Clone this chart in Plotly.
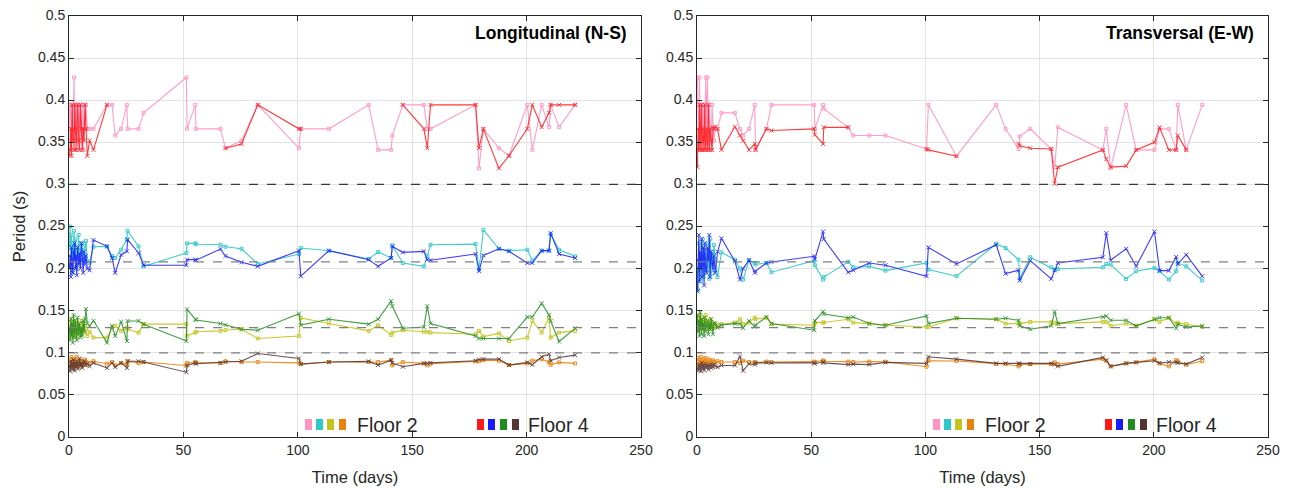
import plotly.graph_objects as go

# ---------------- data ----------------
days = [0.2, 0.5, 0.8, 1.1, 1.4, 1.7, 2.0, 2.2, 2.5, 2.8, 3.1, 3.4, 3.8, 4.2, 4.6, 5.0, 5.4, 5.8, 6.2, 6.6, 7.0, 7.4, 8.0, 9.0, 10.7,
        16.6, 18.8, 20.2, 22.8, 25.3, 25.6, 30.4, 32.6, 51.3, 51.6, 55.2, 55.5, 66.2, 68.4, 75.4, 82.5, 100.5, 101.3, 113.6,
        131.0, 135.1, 140.8, 141.3, 145.9, 155.1, 156.6, 158.0, 177.7, 179.2, 181.1, 187.9, 192.3, 200.3, 202.5, 206.6, 209.8,
        210.5, 214.2, 221.2]

N = None
# ---- Longitudinal (N-S) ----
long_f2_m1 = [0.3945, 0.352, 0.3945, 0.341, 0.3945, 0.366, 0.3945, 0.427, 0.366, 0.3945, 0.352, 0.3945, 0.341, 0.3945, 0.366, 0.3945, 0.352, 0.3945, 0.341, 0.3945, 0.366, 0.3945, 0.366, 0.366, 0.366,
              0.3945, 0.3945, 0.358, 0.366, 0.3945, 0.366, 0.366, 0.385, 0.427, 0.366, 0.3945, 0.366, 0.366, 0.343, 0.352, 0.3945, 0.343, 0.366, 0.366, 0.3945, 0.341, 0.341, 0.358, 0.3945, 0.3945, 0.366, 0.366, 0.3945, 0.319, 0.366, 0.343, 0.334, 0.3945, 0.341, 0.3945, 0.368, 0.3945, 0.368, 0.3945]
long_f4_m1 = [0.334, 0.341, 0.366, 0.334, 0.3945, 0.352, 0.366, 0.341, 0.3945, 0.352, 0.341, 0.366, 0.3945, 0.352, 0.341, 0.3945, 0.366, 0.341, 0.366, 0.352, 0.3945, 0.366, 0.334, 0.352, 0.341,
              0.3945, N, N, N, N, N, N, N, N, N, N, N, N, 0.343, 0.348, 0.3945, 0.366, 0.366, N, N, N, N, N, 0.3945, 0.366, 0.343, 0.3945, 0.3945, 0.343, 0.366, 0.319, 0.334, 0.366, 0.3945, 0.368, 0.385, 0.3945, 0.3945, 0.3945]
long_f2_m2 = [0.225, 0.25, 0.205, 0.24, 0.195, 0.23, 0.215, 0.245, 0.21, 0.235, 0.2, 0.225, 0.215, 0.24, 0.205, 0.22, 0.23, 0.21, 0.225, 0.215, 0.23, 0.233, 0.209, 0.207, 0.226,
              0.2264, 0.215, 0.2126, 0.2224, 0.235, 0.2449, 0.2264, 0.2027, 0.2185, 0.23, 0.23, 0.229, 0.2283, 0.226, 0.2236, 0.2055, 0.2173, 0.2244, 0.2213, 0.2114, 0.2197, 0.2126, 0.2276, 0.2067, 0.2027, 0.215, 0.2283, 0.2291, 0.1988, 0.246, 0.2236, 0.2213, 0.2224, 0.2094, 0.2213, 0.2213, 0.241, 0.2224, 0.2146]
long_f4_m2 = [0.2, 0.215, 0.19, 0.225, 0.205, 0.195, 0.22, 0.21, 0.23, 0.2, 0.215, 0.192, 0.225, 0.205, 0.218, 0.2, 0.23, 0.21, 0.195, 0.22, 0.205, 0.215, 0.2, 0.198, 0.234,
              0.2264, 0.2126, 0.1949, 0.2165, 0.2205, 0.2343, 0.2185, 0.204, 0.204, 0.2106, 0.2106, 0.21, 0.2232, 0.215, 0.2075, 0.2027, 0.2213, 0.191, 0.2213, 0.2106, 0.2027, 0.2126, 0.2264, 0.2193, 0.2205, 0.2106, 0.21, 0.2173, 0.1969, 0.2157, 0.2236, 0.2205, 0.2067, 0.2067, 0.2213, 0.2213, 0.2421, 0.2173, 0.2126]
long_f2_m3 = [0.125, 0.135, 0.118, 0.13, 0.14, 0.12, 0.128, 0.135, 0.122, 0.132, 0.138, 0.125, 0.12, 0.13, 0.135, 0.128, 0.122, 0.138, 0.13, 0.125, 0.132, 0.128, 0.12, 0.125, 0.118,
              0.118, 0.13, 0.132, 0.126, 0.13, 0.128, 0.124, 0.134, 0.134, 0.12, 0.124, 0.125, 0.126, 0.127, 0.128, 0.117, 0.12, 0.1413, 0.1347, 0.126, 0.1327, 0.1213, 0.124, 0.1268, 0.125, 0.125, 0.124, 0.122, 0.126, 0.1193, 0.123, 0.114, 0.118, 0.1378, 0.124, 0.142, 0.1181, 0.124, 0.126]
long_f4_m3 = [0.13, 0.115, 0.14, 0.12, 0.135, 0.112, 0.145, 0.125, 0.118, 0.138, 0.128, 0.115, 0.142, 0.122, 0.135, 0.118, 0.13, 0.12, 0.138, 0.125, 0.14, 0.152, 0.135, 0.132, 0.138,
              0.112, 0.132, 0.12, 0.137, 0.114, 0.1378, 0.1378, 0.134, 0.114, 0.1516, 0.1398, 0.139, 0.1347, 0.133, 0.128, 0.1268, 0.1465, 0.133, 0.1398, 0.134, 0.1398, 0.1614, 0.1555, 0.1291, 0.1307, 0.1555, 0.1347, 0.12, 0.117, 0.117, 0.117, 0.117, 0.1425, 0.1425, 0.1587, 0.145, 0.1378, 0.1134, 0.1291]
long_f2_m4 = [0.088, 0.092, 0.085, 0.095, 0.082, 0.09, 0.087, 0.093, 0.084, 0.091, 0.088, 0.095, 0.086, 0.09, 0.083, 0.092, 0.088, 0.085, 0.09, 0.087, 0.092, 0.089, 0.086, 0.088, 0.09,
              0.087, 0.089, 0.085, 0.088, 0.086, 0.09, 0.088, 0.089, 0.085, 0.088, 0.089, 0.088, 0.088, 0.09, 0.089, 0.089, 0.088, 0.0866, 0.089, 0.089, 0.089, 0.0913, 0.085, 0.089, 0.0874, 0.085, 0.087, 0.0898, 0.09, 0.0913, 0.0906, 0.0854, 0.0874, 0.0906, 0.0925, 0.089, 0.0858, 0.0886, 0.0874]
long_f4_m4 = [0.085, 0.078, 0.09, 0.082, 0.088, 0.08, 0.092, 0.084, 0.079, 0.087, 0.083, 0.09, 0.081, 0.086, 0.093, 0.084, 0.088, 0.082, 0.086, 0.09, 0.088, 0.085, 0.087, 0.084, 0.088,
              0.082, 0.088, 0.083, 0.088, 0.082, 0.09, 0.09, 0.089, 0.077, 0.085, 0.088, 0.087, 0.088, 0.089, 0.09, 0.0992, 0.0933, 0.0866, 0.089, 0.0898, 0.0854, 0.0913, 0.088, 0.0835, 0.0874, 0.0874, 0.088, 0.0906, 0.092, 0.0925, 0.0925, 0.0854, 0.0886, 0.0858, 0.0953, 0.0984, 0.0906, 0.0945, 0.0972]

# ---- Transversal (E-W) ----
trans_f2_m1 = [0.427, 0.3945, 0.341, 0.427, 0.366, 0.3945, 0.341, 0.366, 0.3945, 0.352, 0.3945, 0.341, 0.427, 0.366, 0.427, 0.341, 0.3945, 0.366, 0.341, 0.3945, 0.366, 0.352, 0.366, 0.366, 0.385,
               0.385, 0.366, 0.358, 0.366, 0.3945, 0.341, 0.366, 0.3945, 0.3945, 0.366, 0.3945, 0.39, 0.3677, 0.358, 0.358, 0.358, 0.342, 0.3945, 0.3335, 0.3945, 0.366, 0.342, 0.357, 0.366, 0.342, 0.3205, 0.3677, 0.341, 0.366, 0.319, 0.3945, 0.341, 0.341, 0.366, 0.366, 0.341, 0.3945, 0.341, 0.3945]
trans_f4_m1 = [0.3205, 0.366, 0.341, 0.3945, 0.341, 0.366, 0.3945, 0.341, 0.366, 0.352, 0.341, 0.3945, 0.341, 0.366, 0.341, 0.3945, 0.341, 0.366, 0.352, 0.341, 0.3677, 0.366, 0.3685, 0.366, 0.341,
               0.3685, 0.358, 0.352, 0.341, 0.348, 0.341, 0.366, 0.364, 0.366, 0.359, 0.348, 0.3677, 0.3677, N, N, N, 0.342, 0.341, 0.3335, N, N, 0.348, 0.346, 0.343, 0.342, 0.3008, 0.3205, 0.341, 0.33, 0.3205, 0.3217, 0.341, 0.35, 0.3677, 0.341, 0.341, 0.358, 0.341, N]
trans_f2_m2 = [0.2, 0.175, 0.23, 0.195, 0.215, 0.185, 0.225, 0.205, 0.235, 0.19, 0.21, 0.22, 0.195, 0.23, 0.2, 0.215, 0.188, 0.235, 0.205, 0.22, 0.195, 0.228, 0.21, 0.19, 0.2193,
               0.2106, 0.2, 0.187, 0.21, 0.2067, 0.205, 0.2067, 0.1957, 0.2094, 0.204, 0.187, 0.19, 0.208, 0.2016, 0.2027, 0.1976, 0.2067, 0.1988, 0.191, 0.2295, 0.2244, 0.2106, 0.1882, 0.2134, 0.2016, 0.1988, 0.1996, 0.2016, 0.2055, 0.2047, 0.1878, 0.1969, 0.2008, 0.1969, 0.187, 0.1969, 0.2067, 0.2027, 0.1858]
trans_f4_m2 = [0.173, 0.21, 0.24, 0.185, 0.22, 0.2, 0.235, 0.19, 0.215, 0.225, 0.18, 0.23, 0.2, 0.195, 0.225, 0.21, 0.24, 0.19, 0.22, 0.205, 0.2, 0.215, 0.195, 0.22, 0.236,
               0.2087, 0.187, 0.2, 0.21, 0.195, 0.197, 0.2067, 0.2079, 0.2146, 0.211, 0.244, 0.235, 0.1957, 0.198, 0.2067, 0.204, 0.191, 0.2252, 0.2055, 0.2283, 0.194, 0.198, 0.1858, 0.2094, 0.1878, 0.198, 0.2067, 0.2134, 0.2421, 0.21, 0.2236, 0.2027, 0.244, 0.1976, 0.1976, 0.2138, 0.2055, 0.2165, 0.191]
trans_f2_m3 = [0.135, 0.14, 0.128, 0.145, 0.132, 0.138, 0.13, 0.142, 0.135, 0.128, 0.14, 0.133, 0.145, 0.13, 0.138, 0.135, 0.128, 0.14, 0.132, 0.136, 0.13, 0.134, 0.13, 0.133, 0.134,
               0.1358, 0.1398, 0.134, 0.1358, 0.1417, 0.14, 0.1417, 0.134, 0.1327, 0.1358, 0.1358, 0.136, 0.1398, 0.1358, 0.1347, 0.1327, 0.1307, 0.1307, 0.141, 0.1398, 0.1347, 0.134, 0.1347, 0.1367, 0.1367, 0.135, 0.1347, 0.1367, 0.1367, 0.132, 0.1347, 0.132, 0.1398, 0.1367, 0.1417, 0.1347, 0.1358, 0.134, 0.1307]
trans_f4_m3 = [0.145, 0.125, 0.138, 0.12, 0.148, 0.13, 0.122, 0.14, 0.128, 0.135, 0.12, 0.142, 0.125, 0.132, 0.138, 0.122, 0.135, 0.128, 0.14, 0.13, 0.122, 0.135, 0.135, 0.13, 0.133,
               0.1347, 0.1347, 0.1295, 0.1378, 0.131, 0.133, 0.1425, 0.1347, 0.1268, 0.138, 0.149, 0.146, 0.1417, 0.1425, 0.1347, 0.1327, 0.1437, 0.1347, 0.141, 0.1398, 0.141, 0.1386, 0.132, 0.128, 0.132, 0.149, 0.1347, 0.1425, 0.1437, 0.1386, 0.1386, 0.132, 0.1398, 0.1417, 0.1417, 0.1291, 0.134, 0.1307, 0.132]
trans_f2_m4 = [0.09, 0.094, 0.086, 0.092, 0.088, 0.095, 0.087, 0.091, 0.089, 0.093, 0.086, 0.09, 0.094, 0.088, 0.091, 0.087, 0.092, 0.089, 0.09, 0.088, 0.091, 0.089, 0.088, 0.09, 0.089,
               0.089, 0.088, 0.0906, 0.089, 0.089, 0.088, 0.0895, 0.089, 0.0895, 0.089, 0.091, 0.09, 0.0895, 0.089, 0.0895, 0.0894, 0.0835, 0.0906, 0.0902, 0.0866, 0.0866, 0.0839, 0.086, 0.0866, 0.0866, 0.0886, 0.0866, 0.0925, 0.0906, 0.0839, 0.0874, 0.0886, 0.0925, 0.0874, 0.0839, 0.0913, 0.09, 0.0858, 0.0902]
trans_f4_m4 = [0.082, 0.079, 0.086, 0.08, 0.084, 0.078, 0.083, 0.088, 0.081, 0.085, 0.079, 0.083, 0.087, 0.082, 0.085, 0.08, 0.084, 0.086, 0.082, 0.085, 0.083, 0.086, 0.084, 0.083, 0.085,
               0.085, 0.0957, 0.0787, 0.087, 0.086, 0.088, 0.0885, 0.088, 0.088, 0.087, 0.089, 0.088, 0.086, 0.0865, 0.086, 0.0886, 0.0874, 0.0953, 0.0925, 0.0874, 0.0874, 0.0874, 0.087, 0.0866, 0.0874, 0.086, 0.0839, 0.0945, 0.091, 0.0839, 0.0874, 0.0886, 0.0906, 0.0878, 0.089, 0.0886, 0.088, 0.0866, 0.0945]

reference_periods = [0.3, 0.208, 0.13, 0.1]
panel_titles = ["Longitudinal (N-S)", "Transversal (E-W)"]
legend_labels = ["Floor 2", "Floor 4"]
x_ticks = [0, 50, 100, 150, 200, 250]
y_ticks = [0, 0.05, 0.1, 0.15, 0.2, 0.25, 0.3, 0.35, 0.4, 0.45, 0.5]

# ---------------- styles ----------------
floor2_colors = ["#ff94c2", "#2ec8c8", "#c4c41c", "#e8820c"]
floor4_colors = ["#ff1a1a", "#1a1aff", "#1f8c1f", "#553333"]
FONT = "Liberation Sans, Arial, sans-serif"
PAGE_OFF = 8                      # default body margin of the html page
TOP_PX, BOT_PX = 16, 437          # page pixel extents of the plot areas (vertical)
panel_px = [(69, 641), (697, 1268)]   # page pixel extents of the two plot areas (horizontal)
W, H = 1291 - PAGE_OFF, 491 - PAGE_OFF
ML, MT = 69 - PAGE_OFF, TOP_PX - PAGE_OFF
MR, MB = W - (1268 - PAGE_OFF), H - (BOT_PX - PAGE_OFF)
PW = W - ML - MR
PH = H - MT - MB

panels = [
    ([long_f2_m1, long_f2_m2, long_f2_m3, long_f2_m4], [long_f4_m1, long_f4_m2, long_f4_m3, long_f4_m4]),
    ([trans_f2_m1, trans_f2_m2, trans_f2_m3, trans_f2_m4], [trans_f4_m1, trans_f4_m2, trans_f4_m3, trans_f4_m4]),
]
for f2, f4 in panels:
    for s in f2 + f4:
        assert len(s) == len(days), len(s)

fig = go.Figure()
for p, (f2, f4) in enumerate(panels):
    xa = "x" if p == 0 else "x2"
    ya = "y" if p == 0 else "y2"
    for s, c in zip(f2, floor2_colors):
        fig.add_trace(go.Scatter(x=days, y=s, mode="lines+markers", xaxis=xa, yaxis=ya,
                                 line=dict(color=c, width=1.1), connectgaps=False,
                                 marker=dict(symbol="square-open", size=3, color=c, line=dict(width=1, color=c)),
                                 showlegend=False, opacity=0.9))
    for s, c in zip(f4, floor4_colors):
        fig.add_trace(go.Scatter(x=days, y=s, mode="lines+markers", xaxis=xa, yaxis=ya,
                                 line=dict(color=c, width=1.1), connectgaps=False,
                                 marker=dict(symbol="x-thin-open", size=4, color=c, line=dict(width=1, color=c)),
                                 showlegend=False, opacity=0.85))

axis_common = dict(showgrid=True, gridcolor="#e3e3e3", gridwidth=1, zeroline=False,
                   showline=True, linecolor="#262626", linewidth=1, mirror="ticks",
                   ticks="inside", ticklen=5, tickcolor="#262626", automargin=False,
                   ticklabeloverflow="allow",
                   tickfont=dict(family=FONT, size=14, color="#262626"))

layout = dict(width=W, height=H, margin=dict(l=ML, r=MR, t=MT, b=MB, autoexpand=False),
              paper_bgcolor="white", plot_bgcolor="white", showlegend=False,
              font=dict(family=FONT, color="#262626"))
for p, (x0, x1) in enumerate(panel_px):
    sfx = "" if p == 0 else "2"
    layout["xaxis" + sfx] = dict(axis_common, domain=[(x0 - 69) / PW, (x1 - 69) / PW], range=[0, 250], tickvals=x_ticks,
                                 anchor="y" + sfx,
                                 title=dict(text="Time (days)", font=dict(family=FONT, size=16.5, color="#262626"), standoff=14))
    layout["yaxis" + sfx] = dict(axis_common, domain=[0, 1], range=[0, 0.5], tickvals=y_ticks,
                                 ticktext=[("%g" % v) for v in y_ticks], anchor="x" + sfx, ticklabelshift=-1)
layout["yaxis"]["title"] = dict(text="Period (s)", font=dict(family=FONT, size=16.5, color="#262626"), standoff=8)
fig.update_layout(**layout)

shapes = []
annotations = []
legend_sq = [[236, 247, 258, 270], [408, 419, 431, 443]]
legend_txt = [286, 457]
for p, (x0, x1) in enumerate(panel_px):
    sfx = "" if p == 0 else "2"
    pw = x1 - x0
    for v in reference_periods:
        shapes.append(dict(type="line", xref="x%s domain" % sfx, yref="y" + sfx, x0=0, x1=1, y0=v, y1=v,
                           line=dict(color="#3a3a3a" if v == 0.3 else "#808080", width=1.3, dash="dash")))
    for g, cols in enumerate([floor2_colors, floor4_colors]):
        for off, c in zip(legend_sq[g], cols):
            shapes.append(dict(type="rect", xref="x%s domain" % sfx, yref="y%s domain" % sfx,
                               x0=off / pw, x1=(off + 7) / pw, y0=7 / PH, y1=18 / PH,
                               fillcolor=c, line=dict(width=0)))
        annotations.append(dict(xref="x%s domain" % sfx, yref="y%s domain" % sfx, x=legend_txt[g] / pw,
                                y=12.5 / PH, xanchor="left", yanchor="middle", showarrow=False,
                                text=legend_labels[g], font=dict(family=FONT, size=19.5, color="#262626")))
    annotations.append(dict(xref="x%s domain" % sfx, yref="y%s domain" % sfx, x=(pw - 12) / pw,
                            y=(BOT_PX - 33) / PH, xanchor="right", yanchor="middle", showarrow=False,
                            text="<b>%s</b>" % panel_titles[p], font=dict(family=FONT, size=17.5, color="#000000")))
fig.update_layout(shapes=shapes, annotations=annotations)

fig.write_html("out.html")
